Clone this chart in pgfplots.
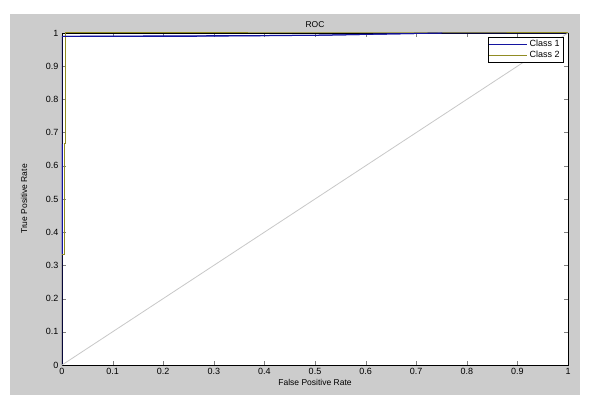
\documentclass[border=0pt]{standalone}
\usepackage{fontspec}
\setmainfont{Liberation Sans}
\usepackage{pgfplots}
\pgfplotsset{compat=1.18}
\usetikzlibrary{backgrounds,calc}

\definecolor{figgray}{RGB}{204,204,204}
\definecolor{classone}{RGB}{20,20,160}
\definecolor{classtwo}{RGB}{145,140,35}
\definecolor{diaggray}{RGB}{200,200,200}

\begin{document}
\begin{tikzpicture}[x=1pt,y=1pt]
  \begin{axis}[
    name=ax,
    scale only axis,
    width=506pt, height=332pt,
    xmin=0, xmax=1, ymin=0, ymax=1,
    xtick={0,0.1,...,1}, ytick={0,0.1,...,1},
    tick align=inside,
    major tick length=4pt,
    axis background/.style={fill=white},
    tick label style={font=\fontsize{9}{10}\selectfont},
    label style={font=\fontsize{8.5}{10}\selectfont},
    title style={font=\fontsize{8.5}{10}\selectfont, yshift=-4pt},
    /pgf/number format/assume math mode=true,
    /pgf/number format/.cd, fixed, precision=1,
    /pgfplots/.cd,
    title={ROC},
    xlabel={False Positive Rate},
    ylabel={True Positive Rate},
    xlabel style={yshift=2pt},
    ylabel style={yshift=12pt},
    legend style={at={(0.99,0.988)}, anchor=north east, draw=black,
      fill=white, font=\fontsize{9}{10}\selectfont, cells={anchor=west},
      inner sep=1pt, row sep=-1pt},
    legend image code/.code={\draw[#1] (0pt,0pt) -- (38pt,0pt);},
  ]
    \addplot[classone, line width=1pt] coordinates {
      (0,0) (0,0.333) (0,0.667) (0,0.99) (0.25,0.99) (0.5,0.993) (0.75,1) (1,1)
    };
    \addlegendentry{Class 1}
    \addplot[classtwo, line width=1pt] coordinates {
      (0,0) (0,0.333) (0.005,0.333) (0.005,0.667) (0.006,0.667) (0.006,1) (0.75,1) (1,1)
    };
    \addlegendentry{Class 2}
    \addplot[diaggray, line width=0.8pt, forget plot] coordinates {
      (0,0) (1,1)
    };
    \addplot[classone, line width=1.2pt, forget plot] coordinates {
      (0,0.333) (0,0.667)
    };
    \addplot[classone, line width=1pt, forget plot] coordinates {
      (0.003,0.99) (0.5,0.993) (0.75,1)
    };
  \end{axis}
  \begin{scope}[on background layer]
    \fill[white] ($(ax.south west)+(-62,-39)$) rectangle ($(ax.north east)+(25,33)$);
    \fill[figgray] ($(ax.south west)+(-52,-30)$) rectangle ($(ax.north east)+(12,19)$);
  \end{scope}
\end{tikzpicture}
\end{document}
